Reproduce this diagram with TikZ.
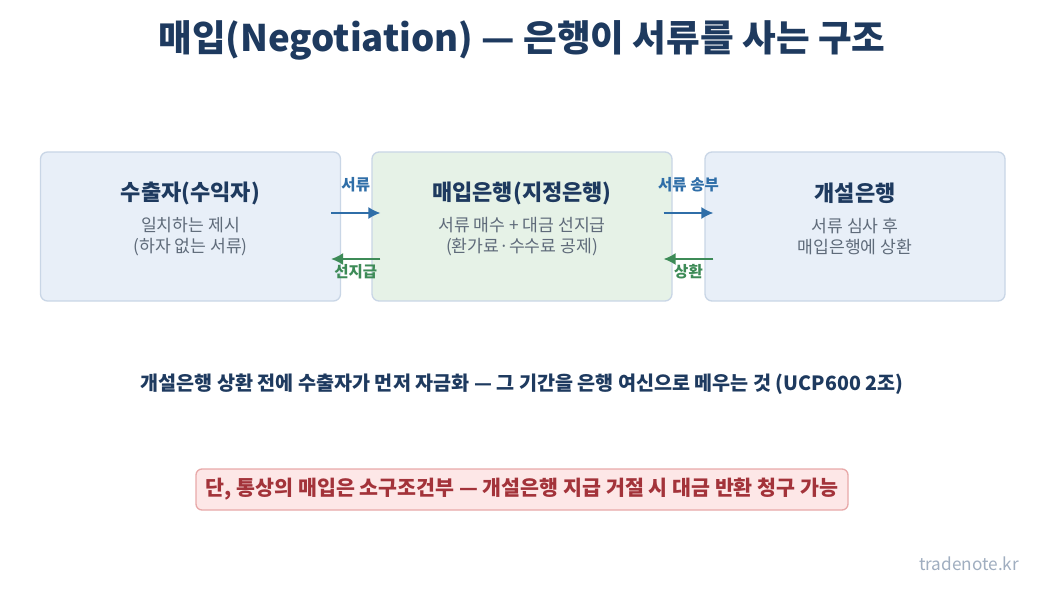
\documentclass[tikz,border=0pt]{standalone}
\usepackage{fontspec}
\setmainfont{Noto Sans CJK KR}
\usetikzlibrary{arrows.meta}
\definecolor{navy}{HTML}{1E3A5F}
\definecolor{subgray}{HTML}{5F6B7A}
\definecolor{docblue}{HTML}{2F6EA8}
\definecolor{paygreen}{HTML}{3D8B57}
\definecolor{notered}{HTML}{A3333A}
\definecolor{notefill}{HTML}{FDE7E7}
\definecolor{noteline}{HTML}{E8A9A9}
\definecolor{bluefill}{HTML}{E8EFF8}
\definecolor{greenfill}{HTML}{E6F2E7}
\definecolor{boxline}{HTML}{C9D6E6}
\definecolor{sitegray}{HTML}{A0AEC0}
\begin{document}
\begin{tikzpicture}[x=1pt, y=-1pt, >={Latex[length=12pt,width=12pt]},
    party/.style={draw=boxline, line width=1.3pt, rounded corners=7pt, minimum width=300pt, minimum height=149pt},
    head/.style={text=navy, font=\fontsize{22}{26}\selectfont\bfseries},
    sub/.style={text=subgray, align=center, font=\fontsize{17.2}{21}\selectfont},
    doc/.style={->, docblue, line width=1.5pt},
    pay/.style={->, paygreen, line width=1.5pt},
    tag/.style={font=\fontsize{15.5}{18}\selectfont\bfseries}]
    \useasboundingbox[fill=white] (0,0) rectangle (1044,593);
    \node[text=navy, font=\fontsize{36.6}{42}\selectfont\bfseries] (title) at (522,40) {매입(Negotiation) — 은행이 서류를 사는 구조};
    % 세 당사자
    \node[party, fill=bluefill] (exp) at (190.5,226.5) {};
    \node[party, fill=greenfill] (nego) at (522,226.5) {};
    \node[party, fill=bluefill] (issue) at (855,226.5) {};
    \node[head] (exph) at ([yshift=33.5pt]exp.center) {수출자(수익자)};
    \node[sub] (exps) at ([yshift=-10pt]exp.center) {일치하는 제시\\(하자 없는 서류)};
    \node[head] (negoh) at ([yshift=33.5pt]nego.center) {매입은행(지정은행)};
    \node[sub] (negos) at ([yshift=-10pt]nego.center) {서류 매수 + 대금 선지급\\(환가료·수수료 공제)};
    \node[head] (issueh) at ([yshift=33.5pt]issue.center) {개설은행};
    \node[sub] (issues) at ([yshift=-10pt]issue.center) {서류 심사 후\\매입은행에 상환};
    % 서류와 대금의 흐름
    \draw[doc] ([xshift=-10pt,yshift=13.5pt]exp.east) -- ([xshift=9pt,yshift=13.5pt]nego.west)
        node[midway, yshift=28pt, tag, text=docblue]{서류};
    \draw[pay] ([xshift=9pt,yshift=-32.5pt]nego.west) -- ([xshift=-10pt,yshift=-32.5pt]exp.east)
        node[midway, yshift=-13pt, tag, text=paygreen]{선지급};
    \draw[doc] ([xshift=-9pt,yshift=13.5pt]nego.east) -- ([xshift=9pt,yshift=13.5pt]issue.west)
        node[midway, yshift=28pt, tag, text=docblue]{서류 송부};
    \draw[pay] ([xshift=9pt,yshift=-32.5pt]issue.west) -- ([xshift=-9pt,yshift=-32.5pt]nego.east)
        node[midway, yshift=-13pt, tag, text=paygreen]{상환};
    \node[text=navy, font=\fontsize{19.6}{23}\selectfont\bfseries] (gist) at (522,384) {개설은행 상환 전에 수출자가 먼저 자금화 — 그 기간을 은행 여신으로 메우는 것 (UCP600 2조)};
    \node[draw=noteline, fill=notefill, line width=1.3pt, rounded corners=6pt, text=notered, minimum width=652pt, minimum height=41pt,
        font=\fontsize{20.6}{24}\selectfont\bfseries] (note) at (522,489.5) {단, 통상의 매입은 소구조건부 — 개설은행 지급 거절 시 대금 반환 청구 가능};
    \node[text=sitegray, font=\fontsize{17.2}{20}\selectfont] (site) at (969,564) {tradenote.kr};
\end{tikzpicture}
\end{document}
